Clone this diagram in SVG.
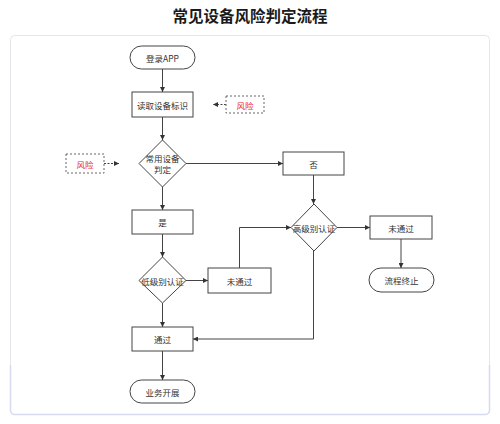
<svg xmlns="http://www.w3.org/2000/svg" width="500" height="424" viewBox="0 0 500 424">
<defs>
<marker id="ah" viewBox="0 0 10 10" refX="10" refY="5" markerWidth="5" markerHeight="5" orient="auto" markerUnits="userSpaceOnUse">
<path d="M0,0 L10,5 L0,10 z" fill="#333"/>
</marker>
<style>
.t{font-family:"Noto Sans CJK SC","Liberation Sans",sans-serif;font-size:8.5px;fill:#333;text-anchor:middle;dominant-baseline:central}
.r{fill:#e8262f}
.n{fill:#fff;stroke:#444;stroke-width:1}
.d{fill:#fff;stroke:#666;stroke-width:1;stroke-dasharray:2,2}
.c{fill:none;stroke:#444;stroke-width:1}
.a{marker-end:url(#ah)}
</style>
</defs>
<rect width="500" height="424" fill="#fff"/>
<text x="250" y="14.5" font-family="Noto Sans CJK SC,sans-serif" font-size="15.5" font-weight="bold" fill="#1a1a1a" text-anchor="middle" dominant-baseline="central">常见设备风险判定流程</text>
<rect x="10.5" y="35.5" width="479" height="379" rx="4" fill="#fff" stroke="#e6e6ea"/>
<path d="M10.5,365 V410.5 a4,4 0 0 0 4,4 H485.5 a4,4 0 0 0 4,-4 V365" fill="none" stroke="#d6dbf1" stroke-width="1.5"/>

<g id="connectors">
<line class="c a" x1="162.5" y1="69" x2="162.5" y2="92"/>
<line class="c a" x1="162.5" y1="117" x2="162.5" y2="140"/>
<line class="c a" x1="226" y1="104.5" x2="213" y2="104.5" stroke-dasharray="2,1.5"/>
<line class="c a" x1="104" y1="163.5" x2="119" y2="163.5" stroke-dasharray="2,1.5"/>
<line class="c a" x1="186" y1="163.5" x2="283" y2="163.5"/>
<line class="c a" x1="162.5" y1="187" x2="162.5" y2="210"/>
<line class="c a" x1="313.5" y1="175" x2="313.5" y2="204"/>
<line class="c a" x1="337" y1="227.5" x2="370" y2="227.5"/>
<line class="c a" x1="401" y1="239" x2="401" y2="268"/>
<line class="c a" x1="162.5" y1="234" x2="162.5" y2="257"/>
<line class="c a" x1="186" y1="280.5" x2="208" y2="280.5"/>
<polyline class="c a" points="239.5,268 239.5,227.5 291,227.5"/>
<polyline class="c a" points="313.5,251 313.5,339 193,339"/>
<line class="c a" x1="162.5" y1="303" x2="162.5" y2="327"/>
<line class="c a" x1="162.5" y1="351" x2="162.5" y2="380"/>
</g>

<g id="login"><rect class="n" x="130" y="46" width="65" height="23" rx="11.5"/><text class="t" x="162.5" y="57.5">登录APP</text></g>
<g id="read"><rect class="n" x="132" y="92" width="61" height="25"/><text class="t" x="162.5" y="104.5">读取设备标识</text></g>
<g id="risk1"><rect class="d" x="226" y="96" width="38" height="17"/><text class="t r" x="245" y="104.5">风险</text></g>
<g id="risk2"><rect class="d" x="66" y="154" width="38" height="19"/><text class="t r" x="85" y="163.5">风险</text></g>
<g id="common"><polygon class="n" points="162.5,140 186,163.5 162.5,187 139,163.5"/><text class="t" x="162.5" y="158">常用设备</text><text class="t" x="162.5" y="168.5">判定</text></g>
<g id="no"><rect class="n" x="283" y="152" width="61" height="23"/><text class="t" x="313.5" y="163.5">否</text></g>
<g id="high"><polygon class="n" points="314,204 337,227.5 314,251 291,227.5"/><text class="t" x="314" y="227.5">高级别认证</text></g>
<g id="fail2"><rect class="n" x="370" y="216" width="62" height="23"/><text class="t" x="401" y="227.5">未通过</text></g>
<g id="end"><rect class="n" x="369" y="268" width="65" height="24" rx="12"/><text class="t" x="401.5" y="280">流程终止</text></g>
<g id="yes"><rect class="n" x="132" y="210" width="61" height="24"/><text class="t" x="162.5" y="222">是</text></g>
<g id="low"><polygon class="n" points="162.5,257 186,280.5 162.5,303 139,280.5"/><text class="t" x="162.5" y="280.5">低级别认证</text></g>
<g id="fail1"><rect class="n" x="208" y="268" width="63" height="25"/><text class="t" x="239.5" y="280.5">未通过</text></g>
<g id="pass"><rect class="n" x="132" y="327" width="61" height="24"/><text class="t" x="162.5" y="339">通过</text></g>
<g id="biz"><rect class="n" x="130" y="380" width="65" height="23" rx="11.5"/><text class="t" x="162.5" y="391.5">业务开展</text></g>
</svg>
